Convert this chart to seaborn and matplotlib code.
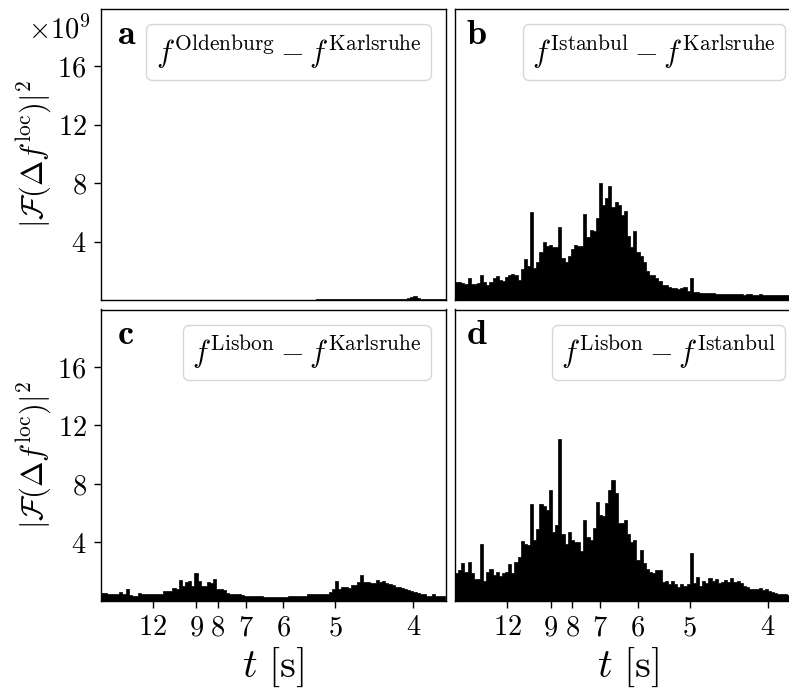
import numpy as np
import pandas as pd
import matplotlib
matplotlib.use("Agg")
import matplotlib.pyplot as plt
import seaborn as sns
from matplotlib.lines import Line2D

# ---------------- data (power in units of 1e9) ----------------
freq_start = 0.05      # 1/s
freq_step = 0.002      # 1/s
n_bins = 110

oldenburg_karlsruhe = [
    0.02, 0.02, 0.02, 0.02, 0.02, 0.02, 0.02, 0.02, 0.02, 0.02,
    0.02, 0.02, 0.02, 0.02, 0.02, 0.02, 0.02, 0.02, 0.02, 0.02,
    0.02, 0.02, 0.02, 0.02, 0.02, 0.02, 0.02, 0.02, 0.02, 0.02,
    0.02, 0.02, 0.02, 0.02, 0.02, 0.02, 0.02, 0.02, 0.02, 0.02,
    0.02, 0.02, 0.02, 0.02, 0.02, 0.02, 0.02, 0.02, 0.02, 0.02,
    0.02, 0.02, 0.02, 0.02, 0.02, 0.02, 0.02, 0.02, 0.02, 0.02,
    0.02, 0.02, 0.02, 0.02, 0.02, 0.02, 0.02, 0.03, 0.03, 0.04,
    0.05, 0.06, 0.06, 0.07, 0.08, 0.08, 0.08, 0.09, 0.08, 0.09,
    0.1, 0.09, 0.1, 0.1, 0.09, 0.1, 0.1, 0.09, 0.1, 0.09,
    0.1, 0.1, 0.09, 0.1, 0.1, 0.09, 0.1, 0.1, 0.12, 0.18,
    0.25, 0.12, 0.1, 0.1, 0.09, 0.1, 0.1, 0.09, 0.1, 0.1,
]

istanbul_karlsruhe = [
    1.2, 1.2, 1.15, 1.1, 1.5, 1.1, 1.1, 1.15, 1.7, 1.2,
    1.0, 1.2, 1.5, 1.65, 1.4, 1.3, 1.6, 1.7, 1.75, 1.7,
    1.4, 2.1, 2.8, 2.3, 6.0, 2.2, 2.6, 3.3, 4.0, 3.7,
    3.8, 3.6, 3.6, 5.0, 2.9, 2.6, 3.0, 3.5, 3.8, 3.7,
    3.7, 5.9, 4.3, 4.8, 4.7, 5.6, 8.0, 6.5, 7.0, 7.8,
    6.4, 6.7, 6.5, 5.8, 6.1, 4.4, 3.6, 4.7, 3.3, 3.0,
    2.6, 2.0, 1.7, 1.7, 1.5, 1.3, 1.05, 1.0, 0.9, 0.8,
    0.8, 0.75, 0.8, 0.9, 0.65, 1.5, 0.55, 0.55, 0.5, 0.45,
    0.45, 0.5, 0.45, 0.4, 0.42, 0.38, 0.4, 0.4, 0.42, 0.38,
    0.38, 0.4, 0.36, 0.38, 0.4, 0.36, 0.35, 0.38, 0.35, 0.35,
    0.34, 0.36, 0.34, 0.32, 0.34, 0.33, 0.32, 0.32, 0.3, 0.3,
]

lisbon_karlsruhe = [
    0.56, 0.52, 0.5, 0.5, 0.45, 0.45, 0.62, 0.45, 0.83, 0.4,
    0.37, 0.37, 0.56, 0.45, 0.45, 0.45, 0.45, 0.48, 0.5, 0.5,
    0.67, 0.67, 0.65, 0.9, 0.8, 1.42, 1.0, 1.28, 1.35, 1.05,
    1.92, 1.4, 1.0, 1.0, 1.28, 1.2, 1.47, 0.8, 0.8, 0.74,
    0.56, 0.5, 0.45, 0.45, 0.45, 0.4, 0.37, 0.37, 0.37, 0.37,
    0.33, 0.33, 0.3, 0.26, 0.28, 0.29, 0.29, 0.29, 0.29, 0.3,
    0.33, 0.33, 0.33, 0.33, 0.33, 0.33, 0.45, 0.45, 0.45, 0.5,
    0.5, 0.5, 0.5, 0.6, 0.8, 1.38, 0.8, 0.97, 0.97, 0.9,
    1.06, 1.06, 1.28, 1.81, 1.28, 1.28, 1.24, 1.24, 1.42, 1.3,
    1.35, 1.2, 1.13, 1.06, 0.97, 0.97, 0.9, 0.83, 0.74, 0.67,
    0.6, 0.56, 0.5, 0.45, 0.37, 0.37, 0.5, 0.33, 0.33, 0.33,
]

lisbon_istanbul = [
    1.9, 2.1, 2.6, 2.0, 2.7, 1.9, 1.5, 1.5, 3.9, 1.4,
    2.0, 2.2, 1.8, 2.0, 1.7, 1.9, 2.0, 2.5, 1.9, 2.7,
    3.0, 4.1, 3.9, 3.85, 6.6, 4.2, 4.9, 6.65, 6.5, 6.2,
    7.6, 4.75, 5.2, 11.1, 4.6, 3.9, 4.75, 4.2, 4.0, 4.0,
    3.4, 5.55, 4.4, 4.2, 5.0, 6.8, 5.9, 5.8, 6.7, 7.6,
    8.3, 7.4, 5.3, 5.3, 5.55, 4.6, 4.0, 4.2, 2.8, 3.5,
    2.6, 2.2, 2.0, 1.9, 2.15, 2.15, 1.3, 1.35, 1.15, 1.35,
    1.15, 0.95, 1.15, 1.0, 1.15, 3.3, 1.2, 1.65, 1.0, 1.35,
    1.25, 1.6, 1.35, 1.5, 1.2, 1.3, 1.45, 1.3, 1.6, 1.3,
    1.35, 1.25, 1.05, 0.95, 0.85, 0.85, 0.85, 0.9, 0.75, 0.8,
    0.7, 0.6, 0.55, 0.5, 0.45, 0.45, 0.4, 0.4, 0.38, 0.35,
]

period_ticks = [12, 9, 8, 7, 6, 5, 4]   # seconds
y_ticks = [4, 8, 12, 16]
panel_letters = ["a", "b", "c", "d"]
legend_labels = [
    r"$f^{\mathrm{Oldenburg}} - f^{\mathrm{Karlsruhe}}$",
    r"$f^{\mathrm{Istanbul}} - f^{\mathrm{Karlsruhe}}$",
    r"$f^{\mathrm{Lisbon}} - f^{\mathrm{Karlsruhe}}$",
    r"$f^{\mathrm{Lisbon}} - f^{\mathrm{Istanbul}}$",
]
series = [oldenburg_karlsruhe, istanbul_karlsruhe, lisbon_karlsruhe, lisbon_istanbul]

# ---------------- style ----------------
sns.set_style("ticks")
plt.rcParams["mathtext.fontset"] = "cm"
plt.rcParams["font.family"] = ["serif"]
plt.rcParams["font.serif"] = ["cmr10", "DejaVu Serif"]
plt.rcParams["axes.formatter.use_mathtext"] = True
plt.rcParams["axes.edgecolor"] = "black"
plt.rcParams["axes.labelcolor"] = "black"
plt.rcParams["text.color"] = "black"
plt.rcParams["axes.linewidth"] = 1.0
plt.rcParams["xtick.color"] = "black"
plt.rcParams["ytick.color"] = "black"

W, H = 789, 690
fig = plt.figure(figsize=(W / 100, H / 100), dpi=100)

def add_ax(x0, y0, w, h):
    return fig.add_axes([x0 / W, 1 - (y0 + h) / H, w / W, h / H])

aw = 345.3
boxes = [(100.5, 9, aw, 291), (455, 9, aw, 291),
         (100.5, 309.5, aw, 291.5), (455, 309.5, aw, 291.5)]

freq_end = freq_start + freq_step * n_bins
centers = freq_start + freq_step * (np.arange(n_bins) + 0.5)

tick_fs = 20.5
letter_dx = [16.5 / aw, 11 / aw, 16.5 / aw, 11 / aw]

for i, (box, vals) in enumerate(zip(boxes, series)):
    ax = add_ax(*box)
    df = pd.DataFrame({"freq": centers, "power": vals})
    sns.histplot(data=df, x="freq", weights="power", bins=n_bins,
                 binrange=(freq_start, freq_end),
                 element="step", fill=True, color="black", alpha=1,
                 linewidth=0.5, ax=ax)
    ax.set_xlim(0.05, 0.2707)
    ax.set_ylim(0, 19.93)
    ax.set_xticks([1 / p for p in period_ticks])
    ax.set_yticks(y_ticks)
    row, col = divmod(i, 2)
    if row == 1:
        ax.set_xticklabels([f"${p}$" for p in period_ticks], fontsize=tick_fs)
        ax.set_xlabel(r"$t\ [\mathrm{s}]$", fontsize=29)
        ax.xaxis.set_label_coords(0.5, -0.155)
        ax.xaxis.label.set_va("top")
    else:
        ax.set_xticklabels([])
        ax.tick_params(axis="x", bottom=False)
        ax.set_xlabel("")
    if col == 0:
        ax.set_yticklabels([f"${v}$" for v in y_ticks], fontsize=tick_fs)
        ax.set_ylabel(r"$|\mathcal{F}(\Delta f^{\mathrm{loc}})|^2$", fontsize=22)
        ax.yaxis.set_label_coords(-0.1375, 0.5)
    else:
        ax.set_yticklabels([])
        ax.tick_params(axis="y", left=False)
        ax.set_ylabel("")
    ax.tick_params(axis="both", direction="out", length=5, width=1, pad=5,
                   labelcolor="black")
    for s in ax.spines.values():
        s.set_visible(True)
        s.set_color("black")
        s.set_linewidth(1.0)
    ax.legend(handles=[Line2D([], [], linestyle="none")], labels=[legend_labels[i]],
              loc="upper right", handlelength=0, handletextpad=0, fontsize=22,
              frameon=True, fancybox=True, framealpha=0.8, edgecolor="0.8",
              borderaxespad=0.5, borderpad=0.3, labelcolor="black")
    ax.text(letter_dx[i], 1 - 34.5 / box[3], r"$\mathbf{" + panel_letters[i] + "}$",
            transform=ax.transAxes, fontsize=26, ha="left", va="baseline",
            color="black")
    if i == 0:
        ax.text(-10 / aw, 1 - 7 / 291, r"$\times10^{9}$", transform=ax.transAxes,
                fontsize=tick_fs, ha="right", va="top", color="black")

fig.savefig("out.png", dpi=100)
